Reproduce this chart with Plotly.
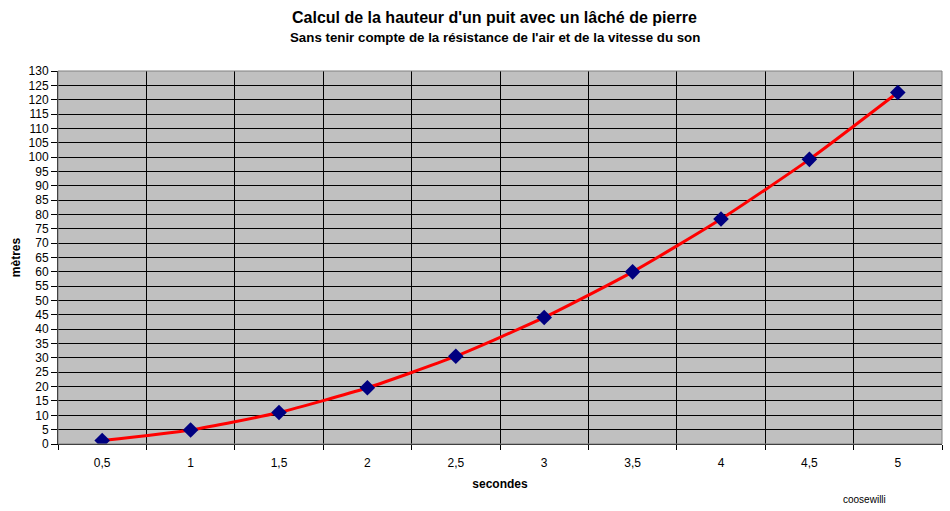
import plotly.graph_objects as go

secondes = [0.5, 1, 1.5, 2, 2.5, 3, 3.5, 4, 4.5, 5]
labels = ["0,5", "1", "1,5", "2", "2,5", "3", "3,5", "4", "4,5", "5"]
metres = [1.2, 4.9, 11.0, 19.6, 30.6, 44.1, 60.0, 78.4, 99.2, 122.5]
y_ticks = list(range(0, 131, 5))

FONT = "Liberation Sans, Arial, sans-serif"

fig = go.Figure()
fig.add_trace(go.Scatter(
    x=secondes, y=metres, mode="lines+markers",
    line=dict(color="#FF0000", width=3, shape="spline", smoothing=0.6),
    marker=dict(symbol="diamond", color="#000080", size=12,
                line=dict(color="#000080", width=0)),
    showlegend=False, hoverinfo="x+y"))

fig.update_layout(
    width=950, height=511,
    margin=dict(l=58, r=8, t=71, b=67, autoexpand=False),
    paper_bgcolor="white", plot_bgcolor="#C0C0C0",
    font=dict(family=FONT, size=12, color="black"),
    xaxis=dict(range=[0.25, 5.25], tickvals=secondes, ticktext=labels,
               ticks="", showgrid=False, zeroline=False, automargin=False,
               showline=True, linecolor="black", linewidth=1,
               ticklabelstandoff=8,
               minor=dict(tick0=0.25, dtick=0.5, showgrid=True,
                          gridcolor="black", gridwidth=1,
                          ticks="outside", ticklen=5, tickcolor="black"),
               title=dict(text="<b>secondes</b>", font=dict(size=12), standoff=10),
               fixedrange=True),
    yaxis=dict(range=[0, 130], tickvals=y_ticks, ticks="outside", ticklen=6,
               tickcolor="black", showgrid=True, gridcolor="black", gridwidth=1,
               zeroline=False, showline=True, linecolor="black", linewidth=1,
               automargin=False,
               title=dict(text="<b>mètres</b>", font=dict(size=12), standoff=5),
               fixedrange=True),
    shapes=[dict(type="rect", xref="paper", yref="paper", x0=0, y0=0, x1=1, y1=1,
                 line=dict(color="#808080", width=1), layer="above")],
    annotations=[
        dict(text="<b>Calcul de la hauteur d'un puit avec un lâché de pierre</b>",
             xref="paper", yref="paper", x=0.494, y=1, yshift=54, showarrow=False,
             font=dict(size=16), xanchor="center", yanchor="middle"),
        dict(text="<b>Sans tenir compte de la résistance de l'air et de la vitesse du son</b>",
             xref="paper", yref="paper", x=0.494, y=1, yshift=34, showarrow=False,
             font=dict(size=13.3), xanchor="center", yanchor="middle"),
        dict(text="coosewilli", xref="paper", yref="paper", x=0.912, y=0, yshift=-55,
             showarrow=False, font=dict(size=10), xanchor="center", yanchor="middle"),
    ],
)

fig.write_html("out.html", config={"displayModeBar": False},
               post_script="document.body.style.margin='0';document.body.style.overflow='hidden';")
